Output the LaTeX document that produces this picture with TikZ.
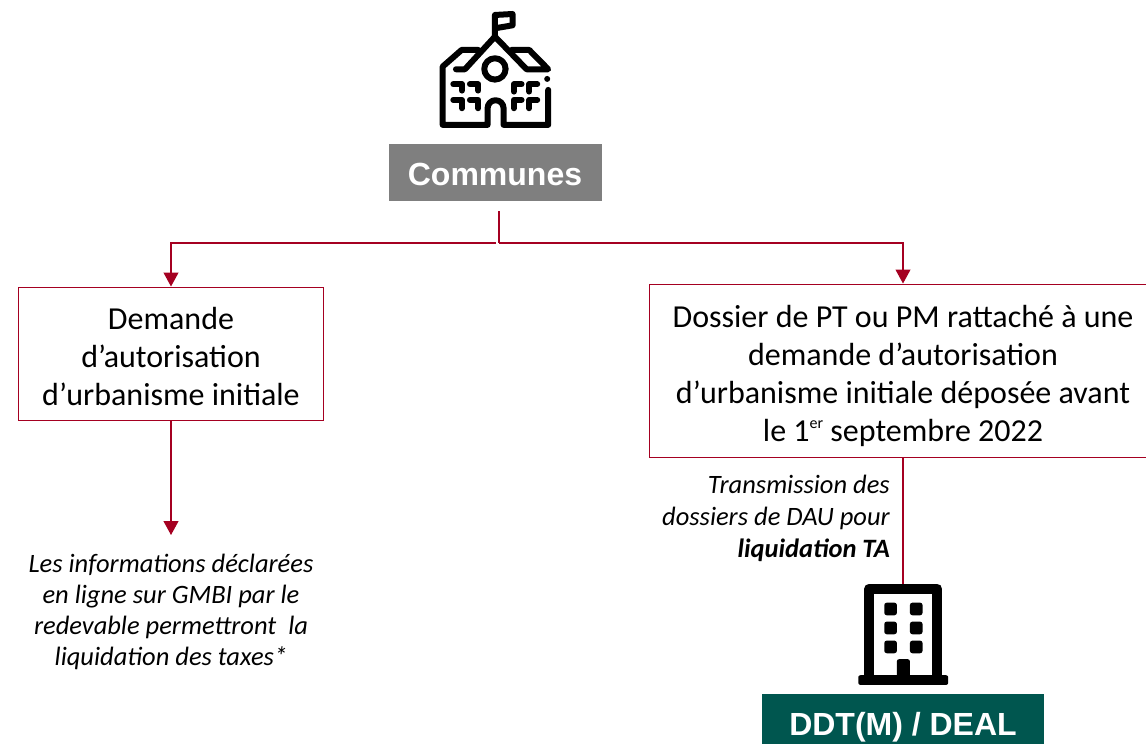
\documentclass[tikz,border=0pt]{standalone}
\usepackage{fontspec}
\setmainfont{Carlito}
\newfontfamily\hv{Liberation Sans}
\usetikzlibrary{arrows.meta}
\definecolor{wine}{HTML}{A50021}
\definecolor{teal2}{HTML}{00564F}
\definecolor{grey2}{HTML}{7F7F7F}
\tikzset{
  x=1pt,y=-1pt,
  conn/.style={draw=wine,line width=1.1pt},
  arr/.style={conn,-{Triangle[length=14pt,width=15pt,fill=wine]}},
  frame/.style={draw=wine,line width=1pt,inner sep=0pt},
  body/.style={align=center,inner sep=0pt,font=\fontsize{32}{38}\selectfont},
  title/.style={text=white,inner sep=0pt,font=\hv\bfseries\fontsize{32}{36}\selectfont},
  note/.style={font=\itshape\fontsize{26.5}{31}\selectfont,inner sep=0pt},
  ico/.style={line width=6pt,line cap=round,line join=round},
}
\begin{document}
\begin{tikzpicture}
\useasboundingbox (0,0) rectangle (1146,744);
\fill[white] (0,0) rectangle (1146,744);
% school icon
\begin{scope}[shift={(420,0)},x=0.333pt,y=-0.333pt,ico]
\draw (225,110) -- (225,45) -- (278,42) -- (278,76) -- (225,85);
\draw (108,208) -- (135,208) -- (225,110) -- (320,208) -- (385,208) -- (328,150) -- (275,150);
\draw (175,150) -- (125,150) -- (68,200) -- (68,375) -- (203,375) -- (203,325) arc (180:360:24) -- (251,375) -- (385,375) -- (385,270);
\draw (225,207) circle (32);
\fill (382,237) circle (9);
\draw (100,253) -- (126,253) -- (126,272);
\draw (150,253) -- (175,253) -- (175,272);
\draw (100,300) -- (126,300) -- (126,325);
\draw (150,300) -- (175,300) -- (175,325);
\draw (305,253) -- (282,253) -- (282,275);
\draw (352,253) -- (328,253) -- (328,275);
\draw (305,300) -- (282,300) -- (282,325);
\draw (352,300) -- (328,300) -- (328,325);
\end{scope}
% building icon
\begin{scope}[shift={(810,570)},x=0.333pt,y=-0.333pt]
\draw[line width=10pt,line join=round] (178,330) -- (178,56) -- (382,56) -- (382,330);
\fill[rounded corners=2pt] (145,316) rectangle (415,345);
\fill[rounded corners=2pt] (261,268) rectangle (300,320);
\foreach \cx in {242,319}\foreach \cy in {117,174,231}
  \fill[rounded corners=2.5pt] (\cx-19,\cy-19) rectangle (\cx+19,\cy+19);
\end{scope}
\coordinate (bldg) at (903,584);
% boxes
\node[fill=grey2,minimum width=213pt,minimum height=57pt,inner sep=0pt] (communes) at (495.5,172.5) {};
\node[title] (communest) at (495,174) {Communes};
\node[frame,minimum width=305pt,minimum height=133pt] (dem) at (170.5,353.5) {};
\node[body] (demt) at (171,357) {Demande\\d’autorisation\\d’urbanisme initiale};
\node[frame,minimum width=497pt,minimum height=173pt] (dos) at (897.5,370.5) {};
\node[body] (dost) at (903,376) {Dossier de PT ou PM rattaché à une\\demande d’autorisation\\d’urbanisme initiale déposée avant\\le 1\raisebox{0.42em}{\fontsize{16}{16}\selectfont er} septembre 2022};
\node[fill=teal2,minimum width=282pt,minimum height=50pt,inner sep=0pt] (ddt) at (903,719) {};
\node[title] (ddtt) at (903,727.5) {DDT(M) / DEAL};
% notes
\node[note,align=center] (info) at (171,612) {Les informations déclarées\\en ligne sur GMBI par le\\redevable permettront~ la\\liquidation des taxes*};
\node[note,align=right,anchor=east,font=\itshape\fontsize{26.5}{32}\selectfont] (trans) at (890,518) {Transmission des\\dossiers de DAU pour\\\textbf{liquidation TA}};
% connectors
\coordinate (top) at (499,211);
\coordinate (split) at (499,243);
\coordinate (splitl) at (496,243);
\draw[conn] (top) -- (split);
\draw[arr] (splitl) -| (dem.north -| 171,0);
\draw[arr] (split) -| (dos.north -| bldg);
\coordinate (demfoot) at (171,535);
\draw[arr] (dem.south -| demfoot) -- (demfoot);
\draw[conn] (dos.south -| bldg) -- (bldg);
\end{tikzpicture}
\end{document}
